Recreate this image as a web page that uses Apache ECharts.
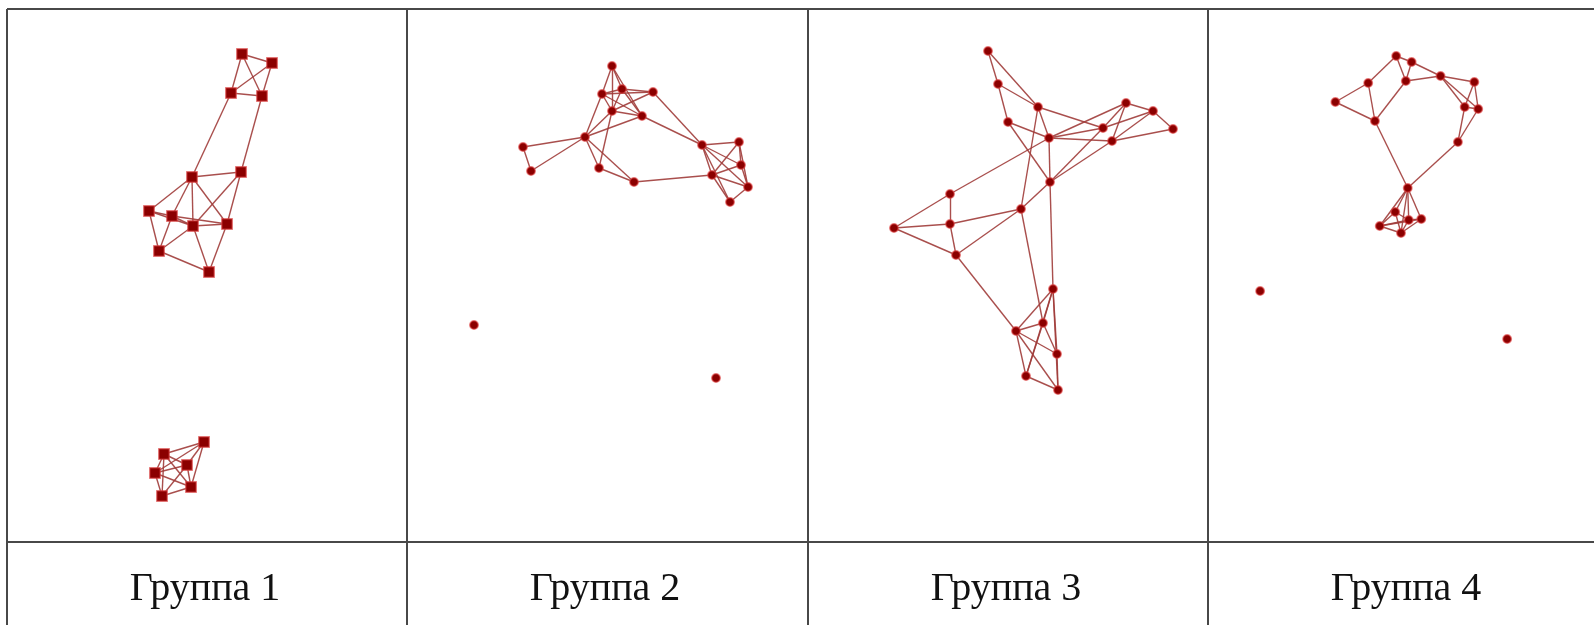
<!DOCTYPE html>
<html>
<head>
<meta charset="utf-8">
<style>
  html, body { margin: 0; padding: 0; background: #fff; }
  #chart { width: 1594px; height: 625px; }
</style>
<script src="https://cdn.jsdelivr.net/npm/echarts@6/dist/echarts.min.js"></script>
</head>
<body>
<div id="chart"></div>
<script>
// подписи колонок
var groupNames = ['Группа 1', 'Группа 2', 'Группа 3', 'Группа 4'];

// узлы: [имя, x, y] в координатах ячейки
var nodes1 = [
  ['A', 235, 45], ['B', 265, 54], ['C', 224, 84], ['D', 255, 87],
  ['E', 185, 168], ['F', 234, 163], ['G', 142, 202], ['H', 165, 207],
  ['I', 186, 217], ['J', 220, 215], ['K', 152, 242], ['L', 202, 263],
  ['a', 197, 433], ['b', 157, 445], ['c', 180, 456], ['d', 148, 464],
  ['e', 184, 478], ['f', 155, 487]
];
var links1 = [
  ['A','B'],['A','C'],['A','D'],['B','C'],['B','D'],['C','D'],['C','E'],['D','F'],
  ['E','F'],['E','G'],['E','H'],['E','I'],['E','J'],['F','I'],['F','J'],
  ['G','H'],['G','I'],['G','K'],['H','I'],['H','J'],['H','K'],['I','J'],
  ['I','K'],['I','L'],['K','L'],['J','L'],
  ['a','b'],['a','c'],['a','d'],['a','e'],['b','c'],['b','d'],['b','e'],['b','f'],
  ['c','d'],['c','e'],['c','f'],['d','e'],['d','f'],['e','f']
];

var nodes2 = [
  ['n1', 205, 57], ['n2', 195, 85], ['n3', 215, 80], ['n4', 246, 83],
  ['n5', 205, 102], ['n6', 235, 107], ['n7', 178, 128], ['n8', 116, 138],
  ['n9', 124, 162], ['n10', 192, 159], ['n11', 227, 173], ['n12', 295, 136],
  ['n13', 332, 133], ['n14', 334, 156], ['n15', 305, 166], ['n16', 341, 178],
  ['n17', 323, 193], ['s1', 67, 316], ['s2', 309, 369]
];
var links2 = [
  ['n1','n2'],['n1','n3'],['n1','n5'],['n1','n6'],['n2','n3'],['n2','n4'],['n2','n5'],
  ['n2','n6'],['n3','n4'],['n3','n5'],['n3','n6'],['n4','n5'],['n4','n12'],
  ['n5','n6'],['n5','n7'],['n5','n10'],['n6','n7'],['n6','n12'],['n7','n2'],
  ['n7','n8'],['n7','n9'],['n7','n10'],['n7','n11'],['n8','n9'],['n10','n11'],
  ['n11','n15'],['n12','n13'],['n12','n14'],['n12','n15'],['n12','n16'],['n12','n17'],
  ['n13','n14'],['n13','n15'],['n13','n16'],['n14','n15'],['n14','n16'],
  ['n15','n16'],['n15','n17'],['n16','n17']
];

var nodes3 = [
  ['m1', 180, 42], ['m2', 190, 75], ['m3', 230, 98], ['m4', 200, 113],
  ['m5', 241, 129], ['m6', 318, 94], ['m7', 345, 102], ['m8', 365, 120],
  ['m9', 295, 119], ['m10', 304, 132], ['m11', 242, 173], ['m12', 142, 185],
  ['m13', 213, 200], ['m14', 142, 215], ['m15', 86, 219], ['m16', 148, 246],
  ['m17', 245, 280], ['m18', 235, 314], ['m19', 208, 322], ['m20', 249, 345],
  ['m21', 218, 367], ['m22', 250, 381]
];
var links3 = [
  ['m1','m2'],['m1','m3'],['m2','m3'],['m2','m4'],['m3','m5'],['m4','m5'],['m4','m11'],
  ['m3','m9'],['m3','m13'],['m5','m6'],['m5','m9'],['m5','m10'],['m5','m11'],['m5','m12'],
  ['m6','m7'],['m6','m9'],['m6','m10'],['m7','m8'],['m7','m9'],['m7','m10'],['m8','m10'],
  ['m11','m9'],['m11','m10'],['m11','m13'],['m11','m17'],['m17','m22'],
  ['m12','m14'],['m12','m15'],['m14','m15'],['m15','m16'],['m14','m16'],['m14','m13'],
  ['m13','m16'],['m13','m18'],['m16','m19'],
  ['m17','m19'],['m17','m18'],['m17','m21'],['m17','m20'],['m18','m19'],['m18','m20'],
  ['m18','m21'],['m19','m20'],['m19','m21'],['m19','m22'],['m20','m22'],['m21','m22']
];

var nodes4 = [
  ['p1', 195, 47], ['p2', 211, 53], ['p3', 166, 74], ['p4', 205, 72],
  ['p5', 241, 67], ['p6', 276, 73], ['p7', 132, 93], ['p8', 266, 98],
  ['p9', 280, 100], ['p10', 173, 112], ['p11', 259, 133], ['p12', 207, 179],
  ['p13', 194, 203], ['p14', 208, 211], ['p15', 221, 210], ['p16', 178, 217],
  ['p17', 200, 224], ['s1', 54, 282], ['s2', 310, 330]
];
var links4 = [
  ['p1','p2'],['p1','p3'],['p1','p4'],['p2','p4'],['p2','p5'],['p3','p7'],['p3','p10'],
  ['p7','p10'],['p4','p5'],['p4','p10'],['p5','p6'],['p5','p8'],['p5','p9'],
  ['p6','p8'],['p6','p9'],['p8','p9'],['p8','p11'],['p9','p11'],['p10','p12'],['p11','p12'],
  ['p12','p13'],['p12','p14'],['p12','p15'],['p12','p16'],['p12','p17'],
  ['p13','p14'],['p13','p16'],['p13','p17'],['p14','p15'],['p14','p16'],['p14','p17'],
  ['p15','p16'],['p15','p17'],['p16','p17']
];

var allNodes = [nodes1, nodes2, nodes3, nodes4];
var allLinks = [links1, links2, links3, links4];

var cellLeft = [7, 407, 808, 1208];
var cellTop = 9, cellW = 400, cellH = 533, midY = 542;
var lineColor = '#484848';

var grids = [], xAxes = [], yAxes = [], series = [], graphics = [];

for (var i = 0; i < 4; i++) {
  grids.push({ left: cellLeft[i], top: cellTop, width: cellW, height: cellH, show: false });
  xAxes.push({ gridIndex: i, type: 'value', min: 0, max: cellW, show: false });
  yAxes.push({ gridIndex: i, type: 'value', min: 0, max: cellH, inverse: true, show: false });
  series.push({
    type: 'graph',
    coordinateSystem: 'cartesian2d',
    xAxisIndex: i,
    yAxisIndex: i,
    symbol: i === 0 ? 'rect' : 'circle',
    symbolSize: i === 0 ? 10.5 : 8.5,
    silent: true,
    itemStyle: {
      color: '#8b0000',
      borderColor: 'rgba(225,70,70,0.6)',
      borderWidth: 1.5
    },
    lineStyle: { color: '#a03c3a', width: 1.4, opacity: 0.9 },
    data: allNodes[i].map(function (n) { return { name: n[0], value: [n[1], n[2]] }; }),
    links: allLinks[i].map(function (l) { return { source: l[0], target: l[1] }; })
  });
  graphics.push({
    type: 'text',
    x: cellLeft[i] + cellW / 2 - 2,
    y: 569,
    style: {
      text: groupNames[i],
      align: 'center',
      verticalAlign: 'top',
      fontFamily: 'Liberation Serif',
      fontSize: 40,
      fill: '#111'
    }
  });
}

// линии таблицы
graphics.push(
  { type: 'line', shape: { x1: 7, y1: cellTop, x2: 1594, y2: cellTop }, style: { stroke: lineColor, lineWidth: 2 } },
  { type: 'line', shape: { x1: 7, y1: midY, x2: 1594, y2: midY }, style: { stroke: lineColor, lineWidth: 2 } }
);
for (var j = 0; j < 4; j++) {
  graphics.push({ type: 'line', shape: { x1: cellLeft[j], y1: cellTop, x2: cellLeft[j], y2: 625 }, style: { stroke: lineColor, lineWidth: 2 } });
}

var chart = echarts.init(document.getElementById('chart'));
chart.setOption({
  animation: false,
  backgroundColor: '#fff',
  grid: grids,
  xAxis: xAxes,
  yAxis: yAxes,
  graphic: graphics,
  series: series
});
</script>
</body>
</html>
